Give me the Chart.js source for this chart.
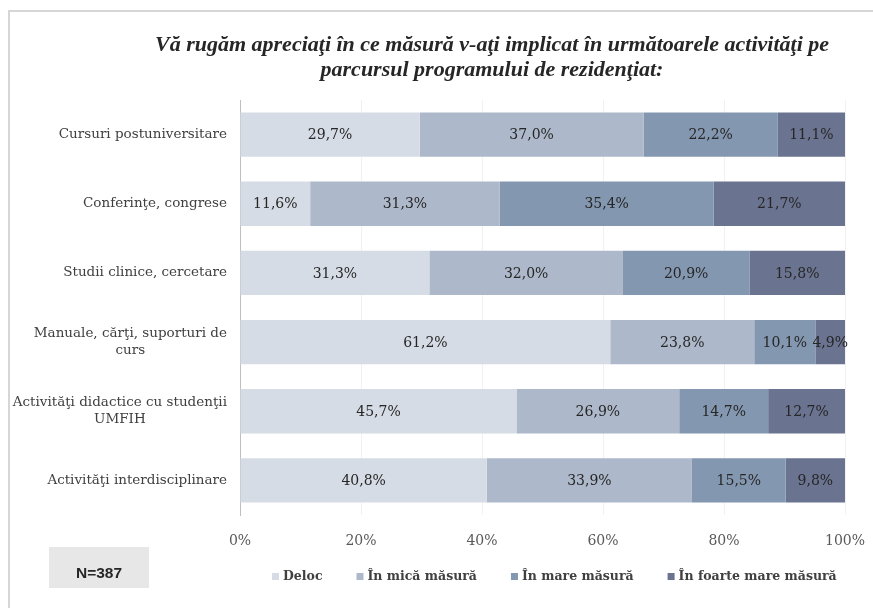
<!DOCTYPE html>
<html>
<head>
<meta charset="utf-8">
<script src="https://cdn.jsdelivr.net/npm/chart.js@4/dist/chart.umd.min.js"></script>
<style>
html,body{margin:0;padding:0;background:#fff;}
#wrap{position:relative;width:873px;height:608px;}
</style>
</head>
<body>
<div id="wrap"><canvas id="c" width="873" height="608"></canvas></div>
<script>
const categories = [
  ["Cursuri postuniversitare"],
  ["Conferinţe, congrese"],
  ["Studii clinice, cercetare"],
  ["Manuale, cărţi, suporturi de", "curs"],
  ["Activităţi didactice cu studenţii", "UMFIH"],
  ["Activităţi interdisciplinare"]
];
const seriesNames = ["Deloc", "În mică măsură", "În mare măsură", "În foarte mare măsură"];
const deloc      = [29.7, 11.6, 31.3, 61.2, 45.7, 40.8];
const inMica     = [37.0, 31.3, 32.0, 23.8, 26.9, 33.9];
const inMare     = [22.2, 35.4, 20.9, 10.1, 14.7, 15.5];
const inFoarte   = [11.1, 21.7, 15.8,  4.9, 12.7,  9.8];
const xTicks = [0, 20, 40, 60, 80, 100];
const titleLines = [
  "Vă rugăm apreciaţi în ce măsură v-aţi implicat în următoarele activităţi pe",
  "parcursul programului de rezidenţiat:"
];
const noteText = "N=387";

const colors = ["#d6dce5", "#adb9ca", "#8497b0", "#6a7390"];
const serif = "'Liberation Serif', serif";
const wideSerif = "'DejaVu Serif', serif";

const decorPlugin = {
  id: 'decor',
  beforeDraw(chart) {
    const ctx = chart.ctx;
    ctx.save();
    ctx.fillStyle = '#d6d6d6';
    ctx.fillRect(8, 10, 2, 598);
    ctx.fillRect(8, 10, 865, 2);
    ctx.fillStyle = '#e7e7e7';
    ctx.fillRect(49, 547, 100, 41);
    ctx.restore();
  },
  afterDatasetsDraw(chart) {
    const ctx = chart.ctx;
    ctx.save();
    // data labels
    ctx.font = "14px " + wideSerif;
    ctx.fillStyle = '#262626';
    ctx.textAlign = 'center';
    ctx.textBaseline = 'middle';
    chart.data.datasets.forEach((ds, i) => {
      const meta = chart.getDatasetMeta(i);
      meta.data.forEach((bar, j) => {
        const v = ds.data[j];
        const cx = (bar.x + bar.base) / 2;
        ctx.fillText(v.toFixed(1).replace('.', ',') + '%', cx, bar.y + 1);
      });
    });
    // category labels
    const ys = chart.scales.y;
    ctx.font = "13.5px " + wideSerif;
    ctx.fillStyle = '#404040';
    const right = chart.chartArea.left - 13;
    categories.forEach((lines, j) => {
      const yc = ys.getPixelForValue(j);
      const widths = lines.map(l => ctx.measureText(l).width);
      const maxW = Math.max(...widths);
      const lh = 17;
      lines.forEach((l, k) => {
        const y = yc + (k - (lines.length - 1) / 2) * lh;
        ctx.fillText(l, right - maxW / 2, y);
      });
    });
    // title
    ctx.font = "italic bold 22px " + serif;
    ctx.fillStyle = '#262626';
    titleLines.forEach((l, k) => ctx.fillText(l, 492, 45 + k * 25));
    // note
    ctx.font = "bold 15.5px 'Liberation Sans', Arial, sans-serif";
    ctx.fillText(noteText, 99, 574);
    // legend
    ctx.font = "bold 12.5px " + wideSerif;
    ctx.textAlign = 'left';
    let x = 272;
    const ly = 577;
    chart.data.datasets.forEach((ds) => {
      ctx.fillStyle = ds.backgroundColor;
      ctx.fillRect(x, ly - 4, 7, 7);
      ctx.fillStyle = '#404040';
      ctx.fillText(ds.label, x + 11, ly);
      x += 11 + ctx.measureText(ds.label).width + 34;
    });
    ctx.restore();
  }
};

const values = [deloc, inMica, inMare, inFoarte];
new Chart(document.getElementById('c'), {
  type: 'bar',
  data: {
    labels: categories.map(c => c.join(' ')),
    datasets: seriesNames.map((n, i) => ({
      label: n,
      data: values[i],
      backgroundColor: colors[i],
      borderWidth: 0,
      categoryPercentage: 0.64,
      barPercentage: 1
    }))
  },
  options: {
    indexAxis: 'y',
    responsive: false,
    animation: false,
    layout: { padding: { left: 0, right: 28, top: 100, bottom: 0 } },
    scales: {
      x: {
        stacked: true,
        min: 0, max: 100,
        afterBuildTicks(scale) { scale.ticks = xTicks.map(v => ({ value: v })); },
        afterFit(scale) { scale.height = 93; scale.paddingRight = 0; scale.paddingLeft = 0; },
        ticks: {
          callback: v => v + '%',
          font: { family: wideSerif, size: 14 },
          color: '#595959',
          padding: 18
        },
        grid: { color: '#f1f1f1', drawTicks: false },
        border: { display: false }
      },
      y: {
        stacked: true,
        ticks: { display: false },
        grid: { display: false },
        border: { display: true, color: '#bfbfbf', width: 1 },
        afterFit(scale) { scale.width = 240; }
      }
    },
    plugins: {
      legend: { display: false },
      tooltip: { enabled: false },
      title: { display: false }
    }
  },
  plugins: [decorPlugin]
});
</script>
</body>
</html>
